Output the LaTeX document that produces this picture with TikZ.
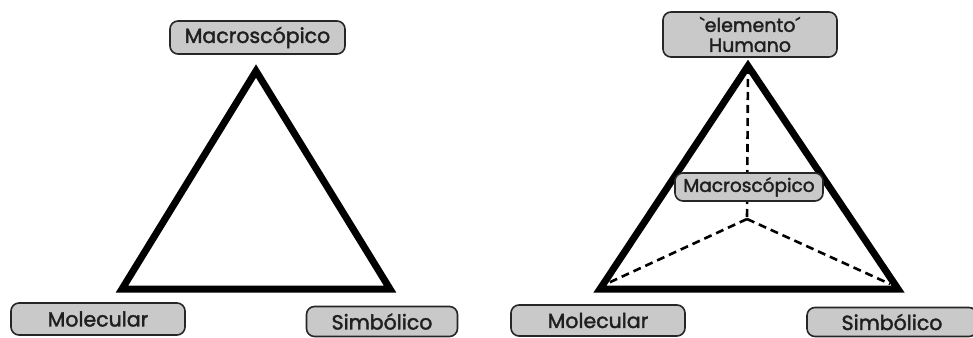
\documentclass[tikz,border=0pt]{standalone}
\usepackage{fontspec}
\newfontfamily\tagfont{Poppins}[Ligatures=TeXOff, FakeBold=1.8]
\begin{document}
\begin{tikzpicture}[x=1pt,y=-1pt,
  tag/.style={draw=black!85, line width=1.6pt, fill=black!21,
    rounded corners=8pt, inner sep=0pt, text=black!88,
    font=\tagfont\fontsize{20.5}{22}\selectfont, align=center},
  edge line/.style={line width=7pt, line join=miter, miter limit=10},
  hidden line/.style={line width=2.6pt, dash pattern=on 8pt off 5pt}]
\useasboundingbox (0,0) rectangle (973,337);
\clip (0,0) rectangle (973,337);

% left triangle
\coordinate (lTop) at (256,71);
\coordinate (lLeft) at (122,289);
\coordinate (lRight) at (390,289);
\draw[edge line] (lTop) -- (lLeft) -- (lRight) -- cycle;

% right triangle with its hidden edges
\coordinate (rTop) at (748,66);
\coordinate (rLeft) at (600,289);
\coordinate (rRight) at (898,289);
\coordinate (rMid) at (747,219);
\coordinate (rInL) at (606,284);
\coordinate (rInR) at (890,284);
\draw[hidden line] (rTop) -- (rMid);
\draw[hidden line] (rMid) -- (rInL);
\draw[hidden line] (rMid) -- (rInR);
\draw[edge line] (rTop) -- (rLeft) -- (rRight) -- cycle;

% labels, left
\node[tag, minimum width=175pt, minimum height=33pt] (lMacro) at (257.5,37.5) {Macroscópico};
\node[tag, minimum width=174pt, minimum height=32pt] (lMol) at (98,319) {Molecular};
\node[tag, minimum width=151pt, minimum height=30pt] (lSim) at (382,321.5) {Simbólico};

% labels, right
\node[tag, minimum width=174pt, minimum height=45pt,
  font=\tagfont\fontsize{19}{20}\selectfont] (rHum) at (750,34.5) {`elemento´\\Humano};
\node[tag, minimum width=148pt, minimum height=28pt,
  font=\tagfont\fontsize{18.5}{20}\selectfont] (rMacro) at (749,187) {Macroscópico};
\node[tag, minimum width=174pt, minimum height=31pt] (rMol) at (598,320.5) {Molecular};
\node[tag, minimum width=170pt, minimum height=29pt] (rSim) at (892,322) {Simbólico};
\end{tikzpicture}
\end{document}
